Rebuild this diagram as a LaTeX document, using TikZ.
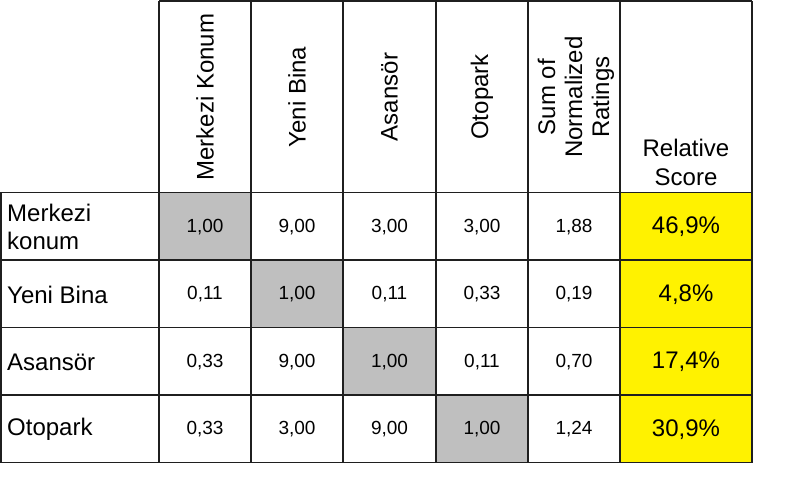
\documentclass[tikz,border=0pt]{standalone}
\usepackage{fontspec}
\setmainfont{Liberation Sans}
\begin{document}
\begin{tikzpicture}[x=1pt,y=-1pt,
  gridline/.style={line width=1.5pt, draw=black!88},
  rowlab/.style={anchor=west, font=\fontsize{24}{28}\selectfont, align=left, inner sep=0pt},
  numtext/.style={font=\fontsize{19}{22}\selectfont, inner sep=0pt},
  pcttext/.style={font=\fontsize{24}{28}\selectfont, inner sep=0pt},
  hdr/.style={rotate=90, font=\fontsize{24}{27}\selectfont, align=center, inner sep=0pt},
  greycell/.style={fill=black!25},
  yellowcell/.style={fill=yellow}]
\useasboundingbox (0,0) rectangle (795,503);
% fills
\fill[greycell] (159,192.5) rectangle (251,260);
\fill[greycell] (251,260) rectangle (343,327.5);
\fill[greycell] (343,327.5) rectangle (436,395);
\fill[greycell] (436,395) rectangle (528,462.5);
\fill[yellowcell] (620,192.5) rectangle (752,462.5);
% grid
\draw[gridline] (159,1) -- (752,1);
\foreach \yy in {192.5,260,327.5,395,462.5} \draw[gridline] (0,\yy) -- (752,\yy);
\draw[gridline] (0.75,192.5) -- (0.75,462.5);
\foreach \xx in {159,251,343,436,528,620,752} \draw[gridline] (\xx,1) -- (\xx,462.5);
% headers
\node[hdr] (h1) at (205,97) {Merkezi Konum};
\node[hdr] (h2) at (297,97) {Yeni Bina};
\node[hdr] (h3) at (389.5,97) {Asansör};
\node[hdr] (h4) at (482,97) {Otopark};
\node[hdr] (h5) at (576,97) {Sum of\\Normalized\\Ratings};
\node[font=\fontsize{24}{29}\selectfont, align=center, inner sep=0pt] (h6) at (686,162.5) {Relative\\Score};
% row labels
\node[rowlab] (r1) at (7,227) {Merkezi\\konum};
\node[rowlab] (r2) at (7,294.5) {Yeni Bina};
\node[rowlab] (r3) at (7,362) {Asansör};
\node[rowlab] (r4) at (7,429.5) {Otopark};
% row 1
\node[numtext] (c11) at (205,227) {1,00};
\node[numtext] (c12) at (297,227) {9,00};
\node[numtext] (c13) at (389.5,227) {3,00};
\node[numtext] (c14) at (482,227) {3,00};
\node[numtext] (c15) at (574,227) {1,88};
\node[pcttext] (c16) at (686,227) {46,9\%};
% row 2
\node[numtext] (c21) at (205,294.5) {0,11};
\node[numtext] (c22) at (297,294.5) {1,00};
\node[numtext] (c23) at (389.5,294.5) {0,11};
\node[numtext] (c24) at (482,294.5) {0,33};
\node[numtext] (c25) at (574,294.5) {0,19};
\node[pcttext] (c26) at (686,294.5) {4,8\%};
% row 3
\node[numtext] (c31) at (205,362) {0,33};
\node[numtext] (c32) at (297,362) {9,00};
\node[numtext] (c33) at (389.5,362) {1,00};
\node[numtext] (c34) at (482,362) {0,11};
\node[numtext] (c35) at (574,362) {0,70};
\node[pcttext] (c36) at (686,362) {17,4\%};
% row 4
\node[numtext] (c41) at (205,429.5) {0,33};
\node[numtext] (c42) at (297,429.5) {3,00};
\node[numtext] (c43) at (389.5,429.5) {9,00};
\node[numtext] (c44) at (482,429.5) {1,00};
\node[numtext] (c45) at (574,429.5) {1,24};
\node[pcttext] (c46) at (686,429.5) {30,9\%};
\end{tikzpicture}
\end{document}
